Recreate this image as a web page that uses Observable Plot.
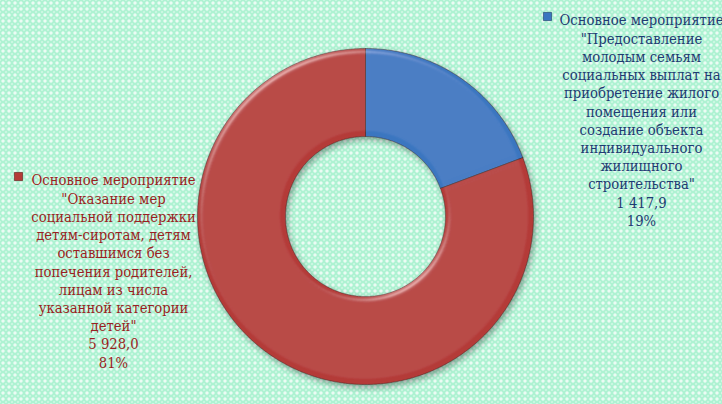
<!DOCTYPE html>
<html>
<head>
<meta charset="utf-8">
<script src="https://cdn.jsdelivr.net/npm/d3@7"></script>
<script src="https://cdn.jsdelivr.net/npm/@observablehq/plot@0.6"></script>
<style>
  html, body { margin: 0; padding: 0; }
  body {
    width: 722px; height: 404px; overflow: hidden;
    background-color: #aef2d2;
    background-image:
      radial-gradient(circle at 50% 50%, rgba(255,255,255,0.95) 0, rgba(255,255,255,0.6) 1.3px, rgba(255,255,255,0) 2.2px),
      radial-gradient(circle at 50% 50%, rgba(255,255,255,0.7) 0, rgba(255,255,255,0) 1.4px);
    background-size: 6px 6px, 6px 6px;
    background-position: 0 0, 3px 3px;
  }
  #chart svg { display: block; background: transparent; }
</style>
</head>
<body>
<div id="chart"></div>
<script>
// ---- data ----
const categories = ["Предоставление", "Оказание"];
const values = [1417.9, 5928.0];
const valueLabels = ["1 417,9", "5 928,0"];
const shareLabels = ["19%", "81%"];
const colors = ["#3A76C0", "#B43A37"];
const textColors = ["#1F3B72", "#9A1F22"];
const labelLines = [
  ["Основное мероприятие", "\"Предоставление", "молодым семьям", "социальных выплат на", "приобретение жилого", "помещения или", "создание объекта", "индивидуального", "жилищного", "строительства\""],
  ["Основное мероприятие", "\"Оказание мер", "социальной поддержки", "детям-сиротам, детям", "оставшимся без", "попечения родителей,", "лицам из числа", "указанной категории", "детей\""]
];

// ---- geometry from data via d3.pie ----
const innerR = 80 / 168;
const arcs = d3.pie().sort(null).value(d => d)(values);
const pts = [];
arcs.forEach((a, i) => {
  const n = Math.max(2, Math.ceil((a.endAngle - a.startAngle) / (Math.PI / 360)));
  const ring = [];
  for (let k = 0; k <= n; k++) {
    const t = a.startAngle + (a.endAngle - a.startAngle) * k / n;
    ring.push({key: categories[i], x: Math.sin(t), y: Math.cos(t)});
  }
  for (let k = n; k >= 0; k--) {
    const t = a.startAngle + (a.endAngle - a.startAngle) * k / n;
    ring.push({key: categories[i], x: innerR * Math.sin(t), y: innerR * Math.cos(t)});
  }
  ring.push({...ring[0]});
  pts.push(...ring);
});

const cx = 365, cy = 216, R = 168;
const fontFamily = "DejaVu Serif Condensed, DejaVu Serif, serif";

const rightText = [...labelLines[0], valueLabels[0], shareLabels[0]].join("\n");
const leftText = [...labelLines[1], valueLabels[1], shareLabels[1]].join("\n");

const plot = Plot.plot({
  width: 722,
  height: 404,
  margin: 0,
  style: {background: "transparent", overflow: "visible"},
  x: {domain: [-1, 1], range: [cx - R, cx + R], axis: null},
  y: {domain: [-1, 1], range: [cy + R, cy - R], axis: null},
  color: {domain: categories, range: colors},
  marks: [
    Plot.line(pts, {x: "x", y: "y", z: "key", fill: "key", stroke: "#3a2020", strokeOpacity: 0.6, strokeWidth: 0.8, curve: "linear"}),
    Plot.text([rightText], {frameAnchor: "top-left", dx: 641, dy: 12, textAnchor: "middle", lineAnchor: "top", lineHeight: 1.24, fontSize: 14.7, fontFamily, fill: textColors[0]}),
    Plot.text([leftText], {frameAnchor: "top-left", dx: 113, dy: 172, textAnchor: "middle", lineAnchor: "top", lineHeight: 1.24, fontSize: 14.7, fontFamily, fill: textColors[1]}),
    Plot.dot([categories[0]], {frameAnchor: "top-left", dx: 547, dy: 16, symbol: "square", r: 4.6, fill: colors[0], stroke: "#1c3a66", strokeWidth: 0.6}),
    Plot.dot([categories[1]], {frameAnchor: "top-left", dx: 18, dy: 176, symbol: "square", r: 4.6, fill: colors[1], stroke: "#5e1616", strokeWidth: 0.6})
  ]
});

// bevel / shadow filter for the donut
const svg = d3.select(plot);
const defs = svg.insert("defs", ":first-child");
const f = defs.append("filter").attr("id", "bevel").attr("x", "-20%").attr("y", "-20%").attr("width", "140%").attr("height", "140%");
f.append("feGaussianBlur").attr("in", "SourceAlpha").attr("stdDeviation", 2.5).attr("result", "blur");
const spec = f.append("feSpecularLighting").attr("in", "blur").attr("surfaceScale", 4).attr("specularConstant", 0.7).attr("specularExponent", 16).attr("lighting-color", "#ffffff").attr("result", "spec");
spec.append("feDistantLight").attr("azimuth", 235).attr("elevation", 28);
f.append("feComposite").attr("in", "spec").attr("in2", "SourceAlpha").attr("operator", "in").attr("result", "specIn");
f.append("feComposite").attr("in", "SourceGraphic").attr("in2", "specIn").attr("operator", "arithmetic").attr("k1", 0).attr("k2", 1).attr("k3", 0.45).attr("k4", 0).attr("result", "lit");
f.append("feGaussianBlur").attr("in", "SourceAlpha").attr("stdDeviation", 3).attr("result", "sblur");
f.append("feOffset").attr("in", "sblur").attr("dx", 2).attr("dy", 3).attr("result", "soff");
f.append("feComponentTransfer").attr("in", "soff").attr("result", "sfade").append("feFuncA").attr("type", "linear").attr("slope", 0.35);
const merge = f.append("feMerge");
merge.append("feMergeNode").attr("in", "sfade");
merge.append("feMergeNode").attr("in", "lit");
svg.select("g[aria-label=line]").attr("filter", "url(#bevel)");

document.getElementById("chart").appendChild(plot);
</script>
</body>
</html>
